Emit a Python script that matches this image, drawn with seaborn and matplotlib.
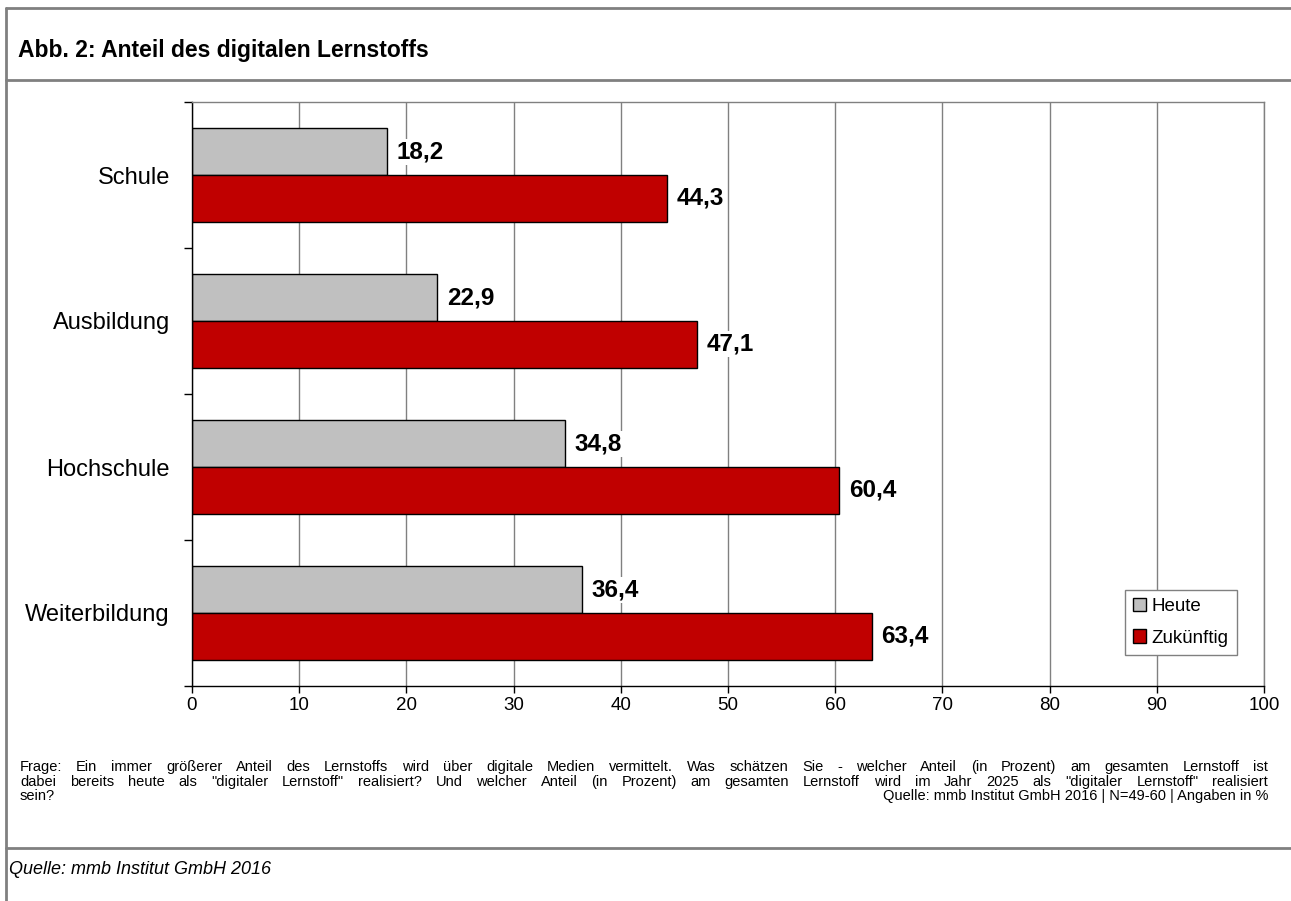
import pandas as pd
import seaborn as sns
import matplotlib.pyplot as plt
from matplotlib.lines import Line2D

categories = ['Schule', 'Ausbildung', 'Hochschule', 'Weiterbildung']
series = ['Heute', 'Zukünftig']
heute = [18.2, 22.9, 34.8, 36.4]
zukuenftig = [44.3, 47.1, 60.4, 63.4]
xticks = list(range(0, 101, 10))

title = 'Abb. 2: Anteil des digitalen Lernstoffs'
frage = [
    'Frage: Ein immer größerer Anteil des Lernstoffs wird über digitale Medien vermittelt. '
    'Was schätzen Sie - welcher Anteil (in Prozent) am gesamten Lernstoff ist',
    'dabei bereits heute als "digitaler Lernstoff" realisiert? Und welcher Anteil (in Prozent) '
    'am gesamten Lernstoff wird im Jahr 2025 als "digitaler Lernstoff" realisiert',
    'sein?',
]
quelle_chart = 'Quelle: mmb Institut GmbH 2016 | N=49-60 | Angaben in %'
quelle = 'Quelle: mmb Institut GmbH 2016'

df = pd.DataFrame({
    'Bereich': categories * 2,
    'Wert': heute + zukuenftig,
    'Zeitpunkt': [series[0]] * len(heute) + [series[1]] * len(zukuenftig),
})

W, H = 1291, 901
sns.set_theme(style='white')
plt.rcParams['font.family'] = ['Liberation Sans', 'DejaVu Sans']
plt.rcParams['text.color'] = 'black'
plt.rcParams['xtick.color'] = 'black'
plt.rcParams['ytick.color'] = 'black'

fig = plt.figure(figsize=(W / 100, H / 100), dpi=100)
ax = fig.add_axes([192 / W, 1 - 686 / H, (1264 - 192) / W, (686 - 102) / H])

sns.barplot(data=df, y='Bereich', x='Wert', hue='Zeitpunkt', orient='h',
            palette=['#C0C0C0', '#C00000'], saturation=1, width=0.64,
            edgecolor='black', linewidth=1, ax=ax)

# value labels with white box, german decimal comma
for cont in ax.containers:
    labels = [f'{b.get_width():.1f}'.replace('.', ',') for b in cont]
    ax.bar_label(cont, labels=labels, padding=7, fontsize=17.5, fontweight='bold',
                 color='black', bbox=dict(facecolor='white', edgecolor='none', pad=1))

ax.set_xlim(0, 100)
ax.set_ylim(len(categories) - 0.5, -0.5)
ax.set_xticks(xticks)
ax.set_xlabel('')
ax.set_ylabel('')
ax.set_axisbelow(True)
ax.xaxis.grid(True, color='#808080', linewidth=1)
ax.yaxis.grid(False)

for side in ['left', 'bottom']:
    ax.spines[side].set_color('black')
    ax.spines[side].set_linewidth(1)
for side in ['top', 'right']:
    ax.spines[side].set_color('#808080')
    ax.spines[side].set_linewidth(1)

ax.tick_params(axis='x', bottom=True, length=5, width=1, color='black',
               labelsize=13.5, pad=3, labelcolor='black')
ax.tick_params(axis='y', which='major', left=False, length=0, labelsize=17,
               pad=16, labelcolor='black')
ax.set_yticks([i - 0.5 for i in range(len(categories) + 1)], minor=True)
ax.tick_params(axis='y', which='minor', left=True, length=6, width=1, color='black')

handles, labels = ax.get_legend_handles_labels()
leg = ax.legend(handles, labels, loc='lower right', bbox_to_anchor=(0.975, 0.053),
                borderaxespad=0, fontsize=13.5, frameon=True, fancybox=False,
                framealpha=1, edgecolor='#808080', handlelength=0.7, handleheight=0.7,
                handletextpad=0.3, borderpad=0.45, labelspacing=0.75)
leg.get_frame().set_linewidth(1)
for t in leg.get_texts():
    t.set_color('black')

# outer frame and separators
lk = dict(transform=fig.transFigure, color='#808080', linewidth=2)
fig.add_artist(Line2D([6 / W, 6 / W], [0, 1 - 8 / H], **lk))
for y in [8, 80, 848]:
    fig.add_artist(Line2D([6 / W, 1], [1 - y / H, 1 - y / H], **lk))

fig.text(18 / W, 1 - 50 / H, title, fontsize=16.5, fontweight='bold', va='center')


def justified(y, text, x0, x1, **kw):
    words = text.split()
    arts = [fig.text(0, 1 - y / H, w, va='baseline', **kw) for w in words]
    r = fig.canvas.get_renderer()
    widths = [a.get_window_extent(r).width for a in arts]
    gap = ((x1 - x0) - sum(widths)) / max(len(words) - 1, 1)
    x = x0
    for a, w in zip(arts, widths):
        a.set_x(x / W)
        x += w + gap


fs = 10.5
justified(771, frage[0], 20, 1268, fontsize=fs)
justified(786, frage[1], 20, 1268, fontsize=fs)
fig.text(20 / W, 1 - 800 / H, frage[2], fontsize=fs, va='baseline')
fig.text(1268 / W, 1 - 800 / H, quelle_chart, fontsize=fs, va='baseline', ha='right')

fig.text(9 / W, 1 - 870 / H, quelle, fontsize=13, style='italic', va='center')

fig.savefig('out.png', dpi=100)
